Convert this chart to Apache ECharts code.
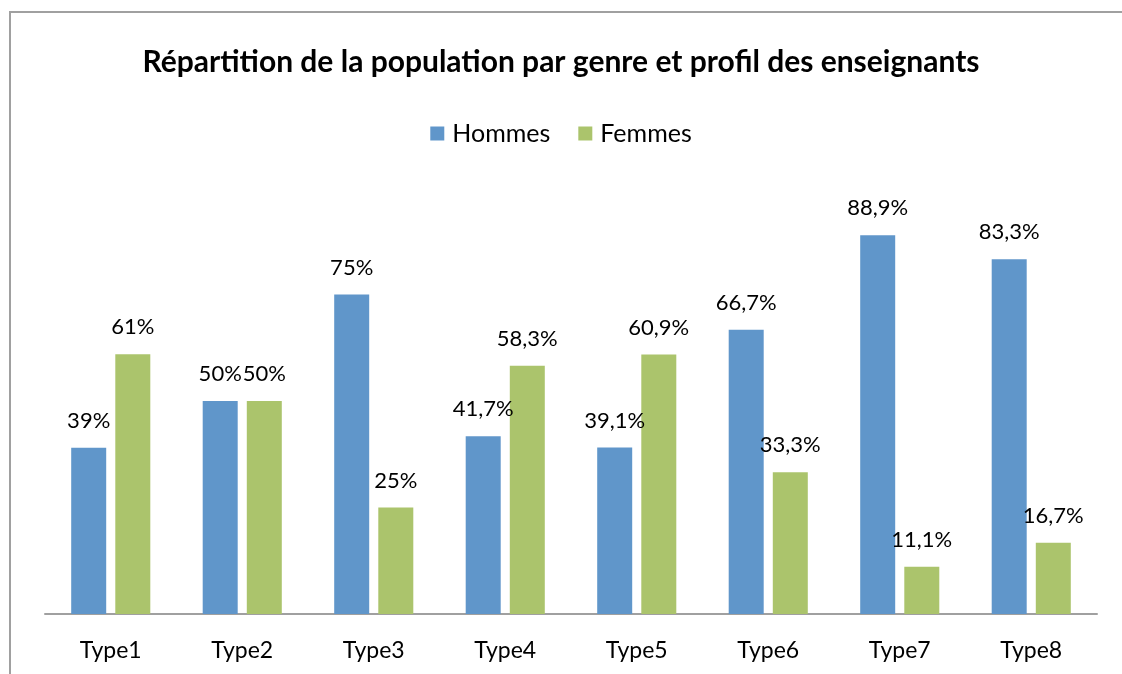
<!DOCTYPE html>
<html>
<head>
<meta charset="utf-8">
<script src="https://cdn.jsdelivr.net/npm/echarts@6/dist/echarts.min.js"></script>
<style>
  html, body { margin: 0; padding: 0; background: #fff; }
  #chart { width: 1122px; height: 674px; }
</style>
</head>
<body>
<div id="chart"></div>
<script>
// Data
var categories = ['Type1', 'Type2', 'Type3', 'Type4', 'Type5', 'Type6', 'Type7', 'Type8'];
var hommes = [39, 50, 75, 41.7, 39.1, 66.7, 88.9, 83.3];
var femmes = [61, 50, 25, 58.3, 60.9, 33.3, 11.1, 16.7];

var myChart = echarts.init(document.getElementById('chart'));

function pct(p) {
	return String(p.value).replace('.', ',') + '%';
}

var labelStyle = {
	show: true,
	position: 'top',
	distance: 16,
	color: '#000',
	fontSize: 22,
	fontFamily: 'Lato',
	formatter: pct
};

var option = {
	backgroundColor: '#fff',
	animation: false,
	graphic: [
		{
			type: 'rect',
			shape: { x: 10, y: 12, width: 1200, height: 700 },
			style: { fill: 'none', stroke: '#a0a0a0', lineWidth: 2 },
			silent: true
		}
	],
	title: {
		text: 'Répartition de la population par genre et profil des enseignants',
		left: 'center',
		top: 42,
		textStyle: { fontFamily: 'Lato', fontWeight: 'bold', fontSize: 30, color: '#000' }
	},
	legend: {
		data: ['Hommes', 'Femmes'],
		top: 116,
		left: 'center',
		itemWidth: 14,
		itemHeight: 14,
		itemGap: 28,
		icon: 'rect',
		textStyle: { fontFamily: 'Lato', fontSize: 25, color: '#000', padding: [0, 0, 0, 3] }
	},
	grid: { left: 45, right: 25, top: 188, bottom: 60 },
	xAxis: {
		type: 'category',
		data: categories,
		axisLine: { lineStyle: { color: '#a0a0a0', width: 2 } },
		axisTick: { show: false },
		axisLabel: { color: '#000', fontSize: 23, fontFamily: 'Lato', margin: 25 }
	},
	yAxis: {
		type: 'value',
		min: 0,
		max: 100,
		show: false,
		splitLine: { show: false }
	},
	series: [
		{
			name: 'Hommes',
			type: 'bar',
			data: hommes,
			barWidth: 35,
			barGap: '26%',
			itemStyle: { color: '#6096ca' },
			label: labelStyle
		},
		{
			name: 'Femmes',
			type: 'bar',
			data: femmes,
			barWidth: 35,
			itemStyle: { color: '#abc46c' },
			label: labelStyle
		}
	]
};

myChart.setOption(option);
</script>
</body>
</html>
